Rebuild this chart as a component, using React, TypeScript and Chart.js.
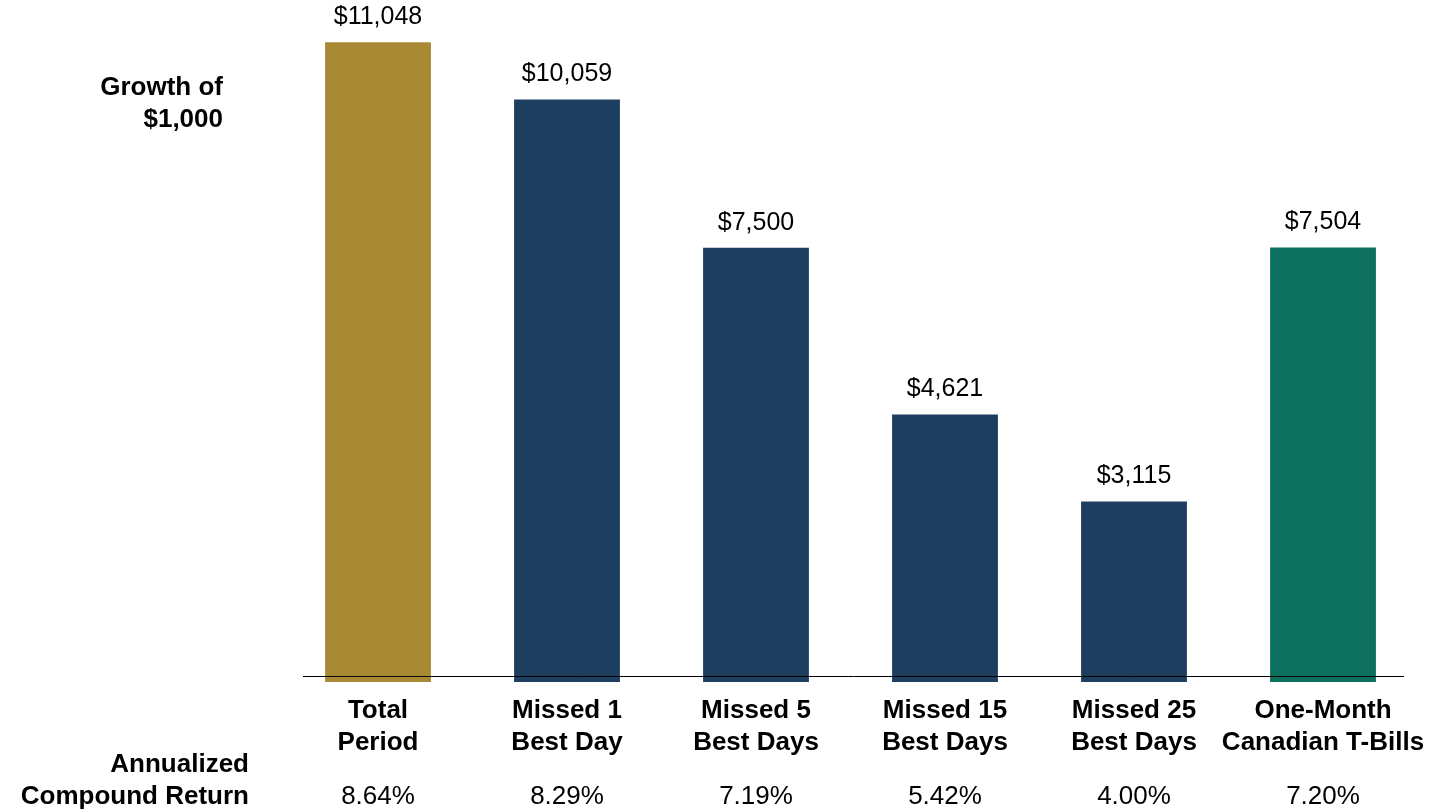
import React, { useEffect, useRef } from "react";
import { Chart, registerables } from "chart.js";

Chart.register(...registerables);

const categories: string[][] = [
  ["Total", "Period"],
  ["Missed 1", "Best Day"],
  ["Missed 5", "Best Days"],
  ["Missed 15", "Best Days"],
  ["Missed 25", "Best Days"],
  ["One-Month", "Canadian T-Bills"],
];
const values: number[] = [11048, 10059, 7500, 4621, 3115, 7504];
const returns: string[] = ["8.64%", "8.29%", "7.19%", "5.42%", "4.00%", "7.20%"];
const barColors: string[] = ["#A98934", "#1E3E5F", "#1E3E5F", "#1E3E5F", "#1E3E5F", "#0E705F"];
const yTitle: string[] = ["Growth of", "$1,000"];
const returnTitle: string[] = ["Annualized", "Compound Return"];

const FONT = "'Liberation Sans', Arial, sans-serif";

const labelsPlugin = {
  id: "customLabels",
  afterDatasetsDraw(chart: any) {
    const ctx = chart.ctx;
    const meta = chart.getDatasetMeta(0);
    const yScale = chart.scales.y;
    const zeroY = yScale.getPixelForValue(0);
    ctx.save();
    // axis line
    ctx.strokeStyle = "#000";
    ctx.lineWidth = 1;
    ctx.beginPath();
    ctx.moveTo(303, Math.round(zeroY - 6) + 0.5);
    ctx.lineTo(1404, Math.round(zeroY - 6) + 0.5);
    ctx.stroke();

    ctx.fillStyle = "#000";
    ctx.textAlign = "center";
    ctx.textBaseline = "middle";
    meta.data.forEach((bar: any, i: number) => {
      ctx.font = `25px ${FONT}`;
      ctx.fillText("$" + values[i].toLocaleString("en-US"), bar.x, bar.y - 25);
      ctx.font = `bold 26px ${FONT}`;
      categories[i].forEach((line, j) => {
        ctx.fillText(line, bar.x, zeroY + 29 + j * 32);
      });
      ctx.font = `26px ${FONT}`;
      ctx.fillText(returns[i], bar.x, zeroY + 115);
    });

    ctx.textAlign = "right";
    ctx.font = `bold 26px ${FONT}`;
    yTitle.forEach((line, j) => ctx.fillText(line, 223, 88 + j * 32));
    returnTitle.forEach((line, j) => ctx.fillText(line, 249, 765 + j * 32));
    ctx.restore();
  },
};

export default function App() {
  const ref = useRef<HTMLCanvasElement | null>(null);
  useEffect(() => {
    if (!ref.current) return;
    const chart = new Chart(ref.current, {
      type: "bar",
      data: {
        labels: categories.map((c) => c.join(" ")),
        datasets: [
          {
            data: values,
            backgroundColor: barColors,
            borderWidth: 0,
            barPercentage: 0.56,
            categoryPercentage: 1,
          },
        ],
      },
      options: {
        animation: false,
        responsive: true,
        maintainAspectRatio: false,
        layout: { padding: { left: 283.5, right: 13.5, top: 16, bottom: 130 } },
        plugins: { legend: { display: false }, tooltip: { enabled: false } },
        scales: {
          x: { display: false },
          y: { display: false, min: 0, max: 11500 },
        },
      },
      plugins: [labelsPlugin],
    });
    return () => chart.destroy();
  }, []);
  return (
    <div style={{ position: "fixed", left: 0, top: 0, width: 1431, height: 812, background: "#fff" }}>
      <canvas ref={ref} />
    </div>
  );
}
